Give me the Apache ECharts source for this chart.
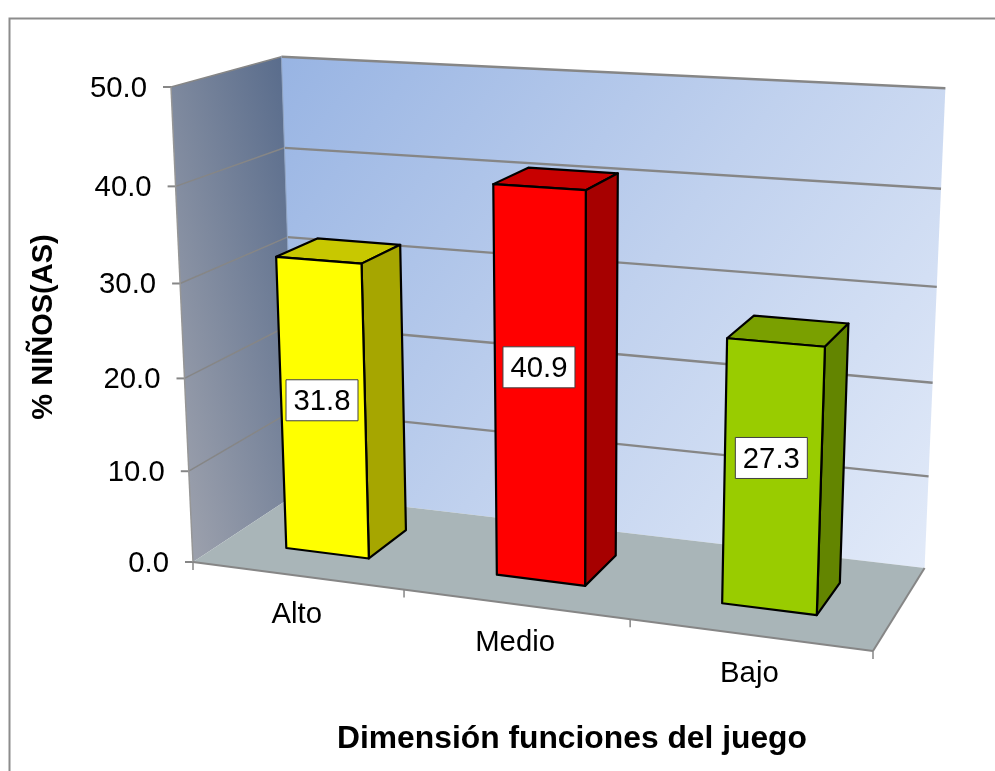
<!DOCTYPE html>
<html><head><meta charset="utf-8">
<style>html,body{margin:0;padding:0;background:#fff}#c{width:995px;height:771px}</style>
<script src="https://cdn.jsdelivr.net/npm/echarts@6/dist/echarts.min.js"></script>
</head><body><div id="c"></div>
<script>
const categories = ['Alto', 'Medio', 'Bajo'];
const values = [31.8, 40.9, 27.3];
const valueTicks = [0, 10, 20, 30, 40, 50];
const faceColors = ['#FFFF00', '#FF0000', '#99CC00'];
const sideColors = ['#A6A600', '#A60000', '#638500'];
const topColors = ['#C8C800', '#C80000', '#7AA000'];
const labelShift = [-9, -21, -20];
const xTitle = 'Dimensión funciones del juego';
const yTitle = '% NIÑOS(AS)';

// Camera of the 3D box: picture positions of four box corners, plus perspective weights.
const O = [193, 562], XEND = [873, 651], YEND = [171, 87], ZEND = [296, 494];
const WX = 0.9, WY = 0.945, WZ = 1.09;
const hv = (p, w) => [w * p[0] - O[0], w * p[1] - O[1], w - 1];
const A = hv(XEND, WX), B = hv(YEND, WY), C = hv(ZEND, WZ);
const BAR_L = 0.3, BAR_R = 0.7, BAR_F = 0.3, BAR_B = 0.7;
const FS = 29.3;

const chart = echarts.init(document.getElementById('c'), null, {renderer: 'canvas'});

// world: cx = position on the category axis, v = value, z = depth 0..1.
// cx and v pass through the hidden cartesian axes first, so the scales are ECharts' own.
function projector(params, api) {
  const cs = params.coordSys;
  return function (cx, v, z) {
    const c = api.coord([cx, v]);
    const x = (c[0] - cs.x) / cs.width, y = (cs.y + cs.height - c[1]) / cs.height;
    const w = 1 + x * A[2] + y * B[2] + z * C[2];
    return [(O[0] + x * A[0] + y * B[0] + z * C[0]) / w,
            (O[1] + x * A[1] + y * B[1] + z * C[1]) / w];
  };
}
const poly = (points, fill, stroke, lw, z2) => ({type: 'polygon', z2: z2, shape: {points},
  style: {fill, stroke: stroke || null, lineWidth: lw || 0, lineJoin: 'round'}});
const line = (p, q, color, lw, z2) => ({type: 'line', z2: z2,
  shape: {x1: p[0], y1: p[1], x2: q[0], y2: q[1]}, style: {stroke: color, lineWidth: lw}});

const n = categories.length;
const TOP = valueTicks[valueTicks.length - 1];
const GRID = '#868686';

function renderBox(params, api) {
  const P = projector(params, api);
  const kids = [];
  const back = new echarts.graphic.LinearGradient(0, 0, 1, 1, [
    {offset: 0, color: '#98B4E3'}, {offset: 0.5, color: '#C0D1EE'}, {offset: 1, color: '#E3EBF9'}]);
  const left = new echarts.graphic.LinearGradient(0, 1, 1.88, 0.885, [
    {offset: 0, color: '#A3A6B0'}, {offset: 1, color: '#55698A'}]);
  kids.push(poly([P(0,0,1), P(n,0,1), P(n,TOP,1), P(0,TOP,1)], back, null, 0, 1));
  kids.push(poly([P(0,0,0), P(0,0,1), P(0,TOP,1), P(0,TOP,0)], left, null, 0, 1));
  kids.push(poly([P(0,0,0), P(n,0,0), P(n,0,1), P(0,0,1)], '#A9B5B8', null, 0, 2));
  valueTicks.forEach(t => {
    if (t > 0) {
      kids.push(line(P(0,t,1), P(n,t,1), GRID, 2.4, 3));
      kids.push(line(P(0,t,0), P(0,t,1), GRID, 1.5, 3));
    }
    const a = P(0,t,0);
    kids.push(line([a[0] - 8, a[1]], a, GRID, 2, 3));
    kids.push({type: 'text', z2: 5, style: {text: t.toFixed(1), x: a[0] - 24, y: a[1] + 1.5,
      align: 'right', verticalAlign: 'middle', fontFamily: 'Liberation Sans', fontSize: FS, fill: '#000'}});
  });
  kids.push(line(P(0,0,0), P(0,TOP,0), '#969696', 1.5, 3));
  kids.push(line(P(0,0,1), P(0,TOP,1), '#8FA3C2', 1, 3));
  kids.push(line(P(0,0,0), P(n,0,0), GRID, 2, 3));
  kids.push(line(P(n,0,0), P(n,0,1), GRID, 2, 3));
  for (let i = 0; i <= n; i++) {
    const a = P(i,0,0);
    kids.push(line(a, [a[0], a[1] + 8], GRID, 1.5, 3));
  }
  categories.forEach((c, i) => {
    const a = P(i + 0.5, 0, 0);
    kids.push({type: 'text', z2: 5, style: {text: c, x: a[0], y: a[1] + 39,
      align: 'center', verticalAlign: 'middle', fontFamily: 'Liberation Sans', fontSize: FS, fill: '#000'}});
  });
  return {type: 'group', children: kids};
}

function renderBar(params, api) {
  const i = api.value(0), v = api.value(1);
  const P = projector(params, api);
  const l = i + BAR_L, r = i + BAR_R;
  const K = '#000', LW = 2.2;
  const kids = [
    poly([P(l,v,BAR_F), P(r,v,BAR_F), P(r,v,BAR_B), P(l,v,BAR_B)], topColors[i], K, LW, 10),
    poly([P(r,0,BAR_F), P(r,0,BAR_B), P(r,v,BAR_B), P(r,v,BAR_F)], sideColors[i], K, LW, 10),
    poly([P(l,0,BAR_F), P(r,0,BAR_F), P(r,v,BAR_F), P(l,v,BAR_F)], faceColors[i], K, LW, 11)
  ];
  const c = P(i + 0.5, v / 2, BAR_F);
  c[0] -= 1; c[1] += labelShift[i];
  kids.push({type: 'rect', z2: 12, shape: {x: c[0] - 36, y: c[1] - 20.5, width: 72, height: 41},
    style: {fill: '#fff', stroke: '#404040', lineWidth: 1}});
  kids.push({type: 'text', z2: 13, style: {text: v.toFixed(1), x: c[0], y: c[1] + 2,
    align: 'center', verticalAlign: 'middle', fontFamily: 'Liberation Sans', fontSize: FS, fill: '#000'}});
  return {type: 'group', children: kids};
}

chart.setOption({
  animation: false,
  backgroundColor: '#fff',
  grid: {left: 100, right: 100, top: 100, bottom: 100},
  xAxis: {type: 'value', min: 0, max: n, show: false},
  yAxis: {type: 'value', min: 0, max: TOP, show: false},
  graphic: [
    {type: 'polyline', silent: true, z: -1, shape: {points: [[9.5, 771], [9.5, 18.5], [995, 18.5]]},
     style: {stroke: '#8C8C8C', lineWidth: 2, fill: null}},
    {type: 'text', x: 572, y: 739, style: {text: xTitle, align: 'center', verticalAlign: 'middle',
      fontFamily: 'Liberation Sans', fontWeight: 'bold', fontSize: 31.8, fill: '#000'}},
    {type: 'text', x: 43.5, y: 327, rotation: Math.PI / 2, style: {text: yTitle, align: 'center', verticalAlign: 'middle',
      fontFamily: 'Liberation Sans', fontWeight: 'bold', fontSize: 29, fill: '#000'}}
  ],
  series: [
    {type: 'custom', coordinateSystem: 'cartesian2d', data: [[0, 0]], renderItem: renderBox, clip: false, silent: true, z: 1},
    {type: 'custom', coordinateSystem: 'cartesian2d', clip: false, silent: true, z: 2,
     encode: {x: 0, y: 1}, data: values.map((v, i) => [i, v]), renderItem: renderBar}
  ]
});
</script></body></html>
